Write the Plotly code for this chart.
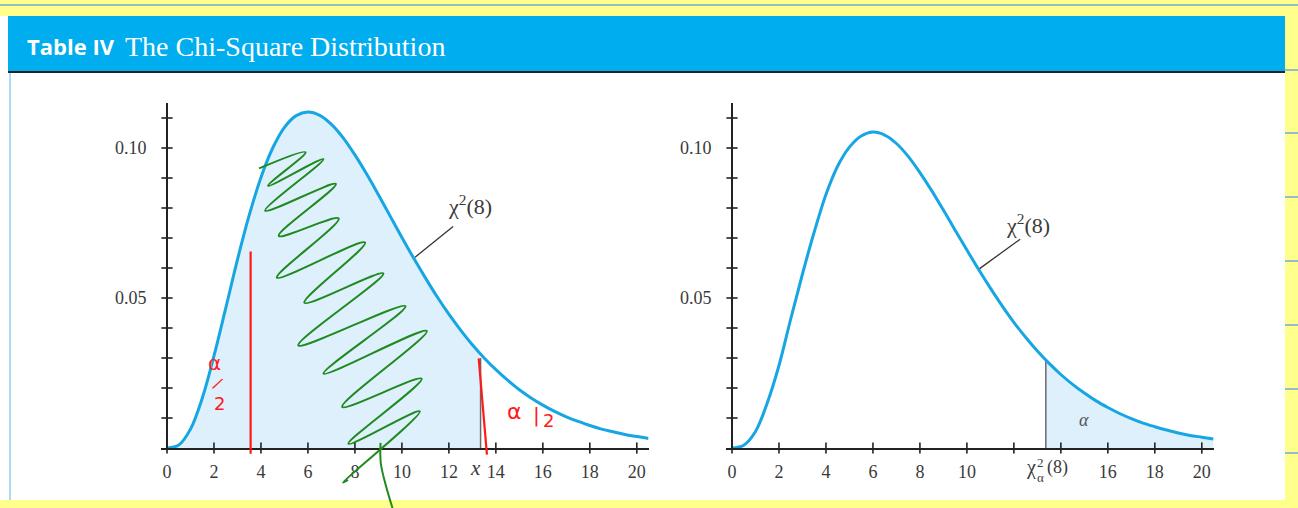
import plotly.graph_objects as go

W, H = 1298, 508

# ---------------- data ----------------
x_vals = [0, 0.5, 1, 1.5, 2, 2.5, 3, 3.5, 4, 4.5, 5, 5.5, 6, 6.5, 7, 7.5, 8, 8.5, 9, 9.5,
          10, 10.5, 11, 11.5, 12, 12.5, 13, 13.5, 14, 14.5, 15, 15.5, 16, 16.5, 17, 17.5,
          18, 18.5, 19, 19.5, 20, 20.5]
left_density = [0, 0.0010, 0.0063, 0.0166, 0.0307, 0.0466, 0.0628, 0.0776, 0.0902, 0.1000,
                0.1069, 0.1108, 0.1120, 0.1109, 0.1079, 0.1034, 0.0977, 0.0913, 0.0844, 0.0773,
                0.0702, 0.0633, 0.0567, 0.0504, 0.0446, 0.0393, 0.0344, 0.0300, 0.0261, 0.0226,
                0.0194, 0.0167, 0.0143, 0.0122, 0.0104, 0.0089, 0.0075, 0.0063, 0.0054, 0.0045,
                0.0038, 0.0032]
right_density = [0, 0.0009, 0.0055, 0.0150, 0.0275, 0.0430, 0.0580, 0.0720, 0.0845, 0.0940,
                 0.1003, 0.1040, 0.1053, 0.1043, 0.1015, 0.0972, 0.0918, 0.0858, 0.0793, 0.0726,
                 0.0660, 0.0595, 0.0533, 0.0474, 0.0419, 0.0369, 0.0323, 0.0282, 0.0245, 0.0212,
                 0.0183, 0.0157, 0.0135, 0.0115, 0.0098, 0.0083, 0.0071, 0.0060, 0.0050, 0.0042,
                 0.0036, 0.0030]
left_crit_x, left_crit_y = 13.35, 0.0300
right_crit_x, right_crit_y = 13.36, 0.0293

x_tick_marks = [0, 2, 4, 6, 8, 10, 12, 14, 16, 18, 20]
y_tick_marks = [0.01, 0.02, 0.03, 0.04, 0.05, 0.06, 0.07, 0.08, 0.09, 0.10, 0.11]
y_label_vals = [0.05, 0.10]
y_label_text = ["0.05", "0.10"]
left_x_label_vals = [0, 2, 4, 6, 8, 10, 12, 14, 16, 18, 20]
right_x_label_vals = [0, 2, 4, 6, 8, 10, 16, 18, 20]

curve_name = "χ<sup>2</sup>(8)"
left_label_xy = (12.9, 0.0810)
left_leader_x, left_leader_y = [12.18, 10.56], [0.0738, 0.0636]
right_label_xy = (12.62, 0.0746)
right_leader_x, right_leader_y = [12.27, 10.54], [0.0696, 0.0598]
alpha_label_xy = (14.99, 0.0092)
left_x_mark_xy = (13.12, 0.0)

# hand-drawn annotations on the left chart
red_line1_x, red_line1_y = [3.56, 3.56], [0.0655, -0.0019]
red_line2_x, red_line2_y = [13.27, 13.62], [0.0299, -0.0022]
scribble_x = [3.92, 5.90, 4.30, 6.66, 4.18, 7.19, 4.76, 7.31, 4.68, 8.43, 5.85, 9.21,
              5.59, 10.15, 6.66, 11.06, 7.46, 10.84, 7.72, 10.76, 7.49, 7.70]
scribble_y = [0.0932, 0.0986, 0.0874, 0.0963, 0.0791, 0.0880, 0.0707, 0.0765, 0.0568,
              0.0685, 0.0484, 0.0582, 0.0342, 0.0473, 0.0248, 0.0390, 0.0137, 0.0231,
              0.0014, 0.0122, -0.0115, -0.0106]
tail_x = [9.09, 9.10, 9.30, 9.60]
tail_y = [0.0017, -0.0050, -0.0120, -0.0200]

# ---------------- geometry (pixels) ----------------
PX_PER_X = 23.49
Y_MAX = 0.115
X_MIN, X_MAX = -0.25, 20.5
left_x0_px = 167.0
right_x0_px = 732.0
base_py, top_py = 448.0, 103.0


def pxx(p):
    return p / W


def pxy(p):
    return 1 - p / H


def xdomain(x0_px):
    return [pxx(x0_px + X_MIN * PX_PER_X), pxx(x0_px + X_MAX * PX_PER_X)]


ydom = [pxy(base_py), pxy(top_py)]

CURVE = "#16A6E4"
FILL = "#DDF0FB"
AXIS = "#222222"
TXT = "#3a3a3a"
SERIF = "Liberation Serif"

fig = go.Figure()


def add_panel(xa, ya, dens, crit_x, crit_y, shade_left):
    if shade_left:
        fx = [x for x in x_vals if x <= crit_x] + [crit_x]
        fy = [d for x, d in zip(x_vals, dens) if x <= crit_x] + [crit_y]
    else:
        fx = [crit_x] + [x for x in x_vals if x > crit_x]
        fy = [crit_y] + [d for x, d in zip(x_vals, dens) if x > crit_x]
    fig.add_trace(go.Scatter(x=fx, y=fy, mode="lines", fill="tozeroy", fillcolor=FILL,
                             line=dict(width=0, shape="spline"), xaxis=xa, yaxis=ya,
                             hoverinfo="skip", showlegend=False))
    fig.add_trace(go.Scatter(x=[crit_x, crit_x], y=[0, crit_y], mode="lines",
                             line=dict(color="#6b6b6b", width=1.5), xaxis=xa, yaxis=ya,
                             hoverinfo="skip", showlegend=False))
    fig.add_trace(go.Scatter(x=x_vals, y=dens, mode="lines",
                             line=dict(color=CURVE, width=3, shape="spline"),
                             xaxis=xa, yaxis=ya, showlegend=False))
    # crossing tick marks
    fig.add_trace(go.Scatter(x=x_tick_marks, y=[0] * len(x_tick_marks), mode="markers",
                             marker=dict(symbol="line-ns", size=8,
                                         line=dict(color=AXIS, width=1.6)),
                             cliponaxis=False, xaxis=xa, yaxis=ya,
                             hoverinfo="skip", showlegend=False))
    fig.add_trace(go.Scatter(x=[0] * len(y_tick_marks), y=y_tick_marks, mode="markers",
                             marker=dict(symbol="line-ew", size=8,
                                         line=dict(color=AXIS, width=1.6)),
                             cliponaxis=False, xaxis=xa, yaxis=ya,
                             hoverinfo="skip", showlegend=False))


add_panel("x", "y", left_density, left_crit_x, left_crit_y, True)
add_panel("x2", "y2", right_density, right_crit_x, right_crit_y, False)

# leader lines
fig.add_trace(go.Scatter(x=left_leader_x, y=left_leader_y, mode="lines",
                         line=dict(color="#333", width=1.3), xaxis="x", yaxis="y",
                         hoverinfo="skip", showlegend=False))
fig.add_trace(go.Scatter(x=right_leader_x, y=right_leader_y, mode="lines",
                         line=dict(color="#333", width=1.3), xaxis="x2", yaxis="y2",
                         hoverinfo="skip", showlegend=False))

# hand-drawn overlay (left chart), on an overlay axis pair extending to the bottom
GREEN = "#1F8A1F"
RED = "#FF1A1A"
fig.add_trace(go.Scatter(x=scribble_x, y=scribble_y, mode="lines",
                         line=dict(color=GREEN, width=2, shape="spline", smoothing=1.0),
                         xaxis="x3", yaxis="y3", hoverinfo="skip", showlegend=False))
fig.add_trace(go.Scatter(x=tail_x, y=tail_y, mode="lines",
                         line=dict(color=GREEN, width=2, shape="spline"),
                         xaxis="x3", yaxis="y3", hoverinfo="skip", showlegend=False))
fig.add_trace(go.Scatter(x=red_line1_x, y=red_line1_y, mode="lines",
                         line=dict(color=RED, width=2.2), xaxis="x3", yaxis="y3",
                         hoverinfo="skip", showlegend=False))
fig.add_trace(go.Scatter(x=red_line2_x, y=red_line2_y, mode="lines",
                         line=dict(color=RED, width=2.2), xaxis="x3", yaxis="y3",
                         hoverinfo="skip", showlegend=False))

tickfont = dict(family=SERIF, size=18, color=TXT)


def xaxis_cfg(x0_px, labels):
    return dict(domain=xdomain(x0_px), range=[X_MIN, X_MAX], showgrid=False, zeroline=False,
                showline=True, linecolor=AXIS, linewidth=2, ticks="",
                tickvals=labels, ticktext=[str(v) for v in labels], tickfont=tickfont,
                ticklabelstandoff=6, fixedrange=True)


def yaxis_cfg(x0_px):
    return dict(domain=ydom, range=[0, Y_MAX], showgrid=False, zeroline=False,
                showline=True, linecolor=AXIS, linewidth=2, ticks="",
                tickvals=y_label_vals, ticktext=y_label_text, tickfont=tickfont,
                anchor="free", position=pxx(x0_px), ticklabelstandoff=16, fixedrange=True)


ov_min = -ydom[0] / (ydom[1] - ydom[0]) * Y_MAX

fig.update_layout(
    width=W, height=H, margin=dict(l=0, r=0, t=0, b=0),
    paper_bgcolor="#FFFF8C", plot_bgcolor="rgba(0,0,0,0)",
    xaxis=xaxis_cfg(left_x0_px, left_x_label_vals),
    yaxis=yaxis_cfg(left_x0_px),
    xaxis2=xaxis_cfg(right_x0_px, right_x_label_vals) | dict(anchor="y2"),
    yaxis2=yaxis_cfg(right_x0_px),
    xaxis3=dict(domain=xdomain(left_x0_px), range=[X_MIN, X_MAX], visible=False,
                anchor="y3", fixedrange=True),
    yaxis3=dict(domain=[0, ydom[1]], range=[ov_min, Y_MAX], visible=False,
                anchor="x3", fixedrange=True),
)

# ---------------- page decoration ----------------
shapes = []
for ly in [70, 133, 197, 261, 325, 389, 453]:
    shapes.append(dict(type="line", xref="paper", yref="paper", x0=pxx(1285), x1=1,
                       y0=pxy(ly), y1=pxy(ly), line=dict(color="#6FA8DC", width=1.5),
                       layer="below"))
shapes.append(dict(type="line", xref="paper", yref="paper", x0=0, x1=1, y0=pxy(5), y1=pxy(5),
                   line=dict(color="#6FA8DC", width=1.5), layer="below"))
shapes.append(dict(type="rect", xref="paper", yref="paper", x0=0, x1=pxx(1285),
                   y0=pxy(500), y1=pxy(16), fillcolor="white", line=dict(width=0),
                   layer="below"))
shapes.append(dict(type="rect", xref="paper", yref="paper", x0=pxx(8), x1=pxx(1285),
                   y0=pxy(71), y1=pxy(16), fillcolor="#00ADEE", line=dict(width=0),
                   layer="below"))
shapes.append(dict(type="line", xref="paper", yref="paper", x0=pxx(8), x1=pxx(1285),
                   y0=pxy(72), y1=pxy(72), line=dict(color="#222", width=2.2),
                   layer="below"))
shapes.append(dict(type="line", xref="paper", yref="paper", x0=pxx(10), x1=pxx(10),
                   y0=pxy(73), y1=pxy(500), line=dict(color="#8FD0F0", width=1.5),
                   layer="below"))
fig.update_layout(shapes=shapes)

ann = []
ann.append(dict(xref="paper", yref="paper", x=pxx(25), y=pxy(46), xanchor="left",
                yanchor="middle", showarrow=False, text="<b>Table IV</b>",
                font=dict(family="Open Sans", size=22, color="white")))
ann.append(dict(xref="paper", yref="paper", x=pxx(123), y=pxy(46), xanchor="left",
                yanchor="middle", showarrow=False, text="The Chi-Square Distribution",
                font=dict(family=SERIF, size=28, color="white")))
labfont = dict(family=SERIF, size=22, color=TXT)
ann.append(dict(xref="x", yref="y", x=left_label_xy[0], y=left_label_xy[1],
                text=curve_name, showarrow=False, font=labfont))
ann.append(dict(xref="x2", yref="y2", x=right_label_xy[0], y=right_label_xy[1],
                text=curve_name, showarrow=False, font=labfont))
ann.append(dict(xref="x2", yref="y2", x=alpha_label_xy[0], y=alpha_label_xy[1],
                text="<i>α</i>", showarrow=False,
                font=dict(family=SERIF, size=18, color="#555")))
ann.append(dict(xref="x", yref="y", x=left_x_mark_xy[0], y=left_x_mark_xy[1],
                text="<i>x</i>", showarrow=False, yanchor="top", yshift=-6,
                font=dict(family=SERIF, size=21, color=TXT)))
# chi-square alpha tick label on the right chart
ann.append(dict(xref="x2", yref="y2", x=right_crit_x, y=0, xshift=-15, yshift=-6,
                yanchor="top", text="χ", showarrow=False,
                font=dict(family=SERIF, size=20, color=TXT)))
ann.append(dict(xref="x2", yref="y2", x=right_crit_x, y=0, xshift=-5, yshift=-5,
                yanchor="top", text="2", showarrow=False,
                font=dict(family=SERIF, size=13, color=TXT)))
ann.append(dict(xref="x2", yref="y2", x=right_crit_x, y=0, xshift=-5, yshift=-20,
                yanchor="top", text="α", showarrow=False,
                font=dict(family=SERIF, size=13, color=TXT)))
ann.append(dict(xref="x2", yref="y2", x=right_crit_x, y=0, xshift=12, yshift=-7,
                yanchor="top", text="(8)", showarrow=False, font=tickfont))
# red handwriting
hw = dict(family="DejaVu Sans", color=RED)
ann.append(dict(xref="x", yref="y", x=2.02, y=0.0284, text="α", showarrow=False,
                font=hw | dict(size=20)))
ann.append(dict(xref="x", yref="y", x=2.17, y=0.0215, text="/", showarrow=False,
                textangle=30, font=hw | dict(size=16)))
ann.append(dict(xref="x", yref="y", x=2.25, y=0.0150, text="2", showarrow=False,
                font=hw | dict(size=18)))
ann.append(dict(xref="x", yref="y", x=14.80, y=0.0122, text="α", showarrow=False,
                font=hw | dict(size=22)))
ann.append(dict(xref="x", yref="y", x=15.73, y=0.0110, text="|", showarrow=False,
                font=hw | dict(size=20)))
ann.append(dict(xref="x", yref="y", x=16.25, y=0.0092, text="2", showarrow=False,
                font=hw | dict(size=18)))
fig.update_layout(annotations=ann)

fig.write_html("out.html", config={"displayModeBar": False},
               post_script="document.body.style.margin='0';"
                           "document.body.style.overflow='hidden';")
